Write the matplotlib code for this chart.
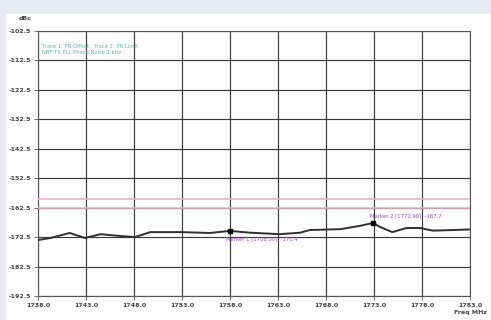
import matplotlib
matplotlib.use("Agg")
import matplotlib.pyplot as plt
from matplotlib.patches import Rectangle

# trace (MHz, dBc)
freq = [1738.0, 1739.3, 1741.3, 1742.9, 1744.5, 1746.5, 1748.1, 1749.7, 1752.8,
        1755.9, 1758.0, 1760.1, 1763.2, 1765.3, 1766.3, 1769.5, 1771.5, 1772.9,
        1773.6, 1774.9, 1776.4, 1777.8, 1779.1, 1781.2, 1783.0]
level = [-173.5, -172.8, -171.1, -172.8, -171.5, -172.1, -172.5, -170.8, -170.8,
         -171.1, -170.4, -171.0, -171.5, -171.0, -170.1, -169.8, -168.7, -167.7,
         -169.0, -170.8, -169.4, -169.4, -170.3, -170.1, -169.9]
limits = [-159.5, -162.5]
marker_f = [1758.0, 1772.9]
marker_db = [-170.4, -167.7]
marker_txt = ["Marker 1 [1758.00]: -170.4", "Marker 2 [1772.90]: -167.7"]
xticks = [1738.0, 1743.0, 1748.0, 1753.0, 1758.0, 1763.0, 1768.0, 1773.0, 1778.0, 1783.0]
yticks = [-102.5, -112.5, -122.5, -132.5, -142.5, -152.5, -162.5, -172.5, -182.5, -192.5]

fig = plt.figure(figsize=(4.91, 3.2), dpi=100)
fig.patch.set_facecolor("#e8ecf2")
fig.patches.append(Rectangle((6 / 491, 0), 1, 1 - 14 / 320, transform=fig.transFigure,
                             facecolor="white", edgecolor="none", zorder=-5))
ax = fig.add_axes([38 / 491, 1 - 296 / 320, 432 / 491, 265 / 320])
ax.set_zorder(2)
ax.set_facecolor("white")

ax.set_xlim(xticks[0], xticks[-1])
ax.set_ylim(yticks[-1], yticks[0])
ax.set_xticks(xticks)
ax.set_yticks(yticks)
ax.set_xticklabels([f"{t:.1f}" for t in xticks], fontsize=4.5, color="#444444", fontweight="bold")
ax.set_yticklabels([f"{t:.1f}" for t in yticks], fontsize=4.5, color="#444444", fontweight="bold")
ax.tick_params(length=3, width=0.6, color="#555555", pad=2)
ax.grid(True, color="#3a3a3a", linewidth=0.85)
for s in ax.spines.values():
    s.set_color("#555555")
    s.set_linewidth(0.8)

for lv in limits:
    ax.axhline(lv, color="#eab4c2", linewidth=1.2, zorder=3)

ax.plot(freq, level, color="#303030", linewidth=1.4, zorder=4)
ax.plot(marker_f, marker_db, "s", color="black", markersize=3, zorder=5)
ax.annotate(marker_txt[0], (marker_f[0], marker_db[0]), xytext=(-3, -7),
            textcoords="offset points", fontsize=3.8, color="#a048c0")
ax.annotate(marker_txt[1], (marker_f[1], marker_db[1]), xytext=(-2, 4),
            textcoords="offset points", fontsize=3.8, color="#a048c0")

ax.text(0.01, 0.95, "Trace 1: PN Offset   Trace 2: PN Limit\nNRF TX PLL Phase Noise 1 kHz",
        transform=ax.transAxes, fontsize=3.8, color="#60b8a8", va="top", linespacing=1.3)

fig.text(25 / 491, 1 - 20 / 320, "dBc", fontsize=4.5, fontweight="bold", color="#444444", ha="center")
fig.text(470 / 491, 1 - 314 / 320, "Freq MHz", fontsize=4.5, fontweight="bold", color="#444444", ha="center")

fig.savefig("out.png", dpi=100, facecolor=fig.get_facecolor())
